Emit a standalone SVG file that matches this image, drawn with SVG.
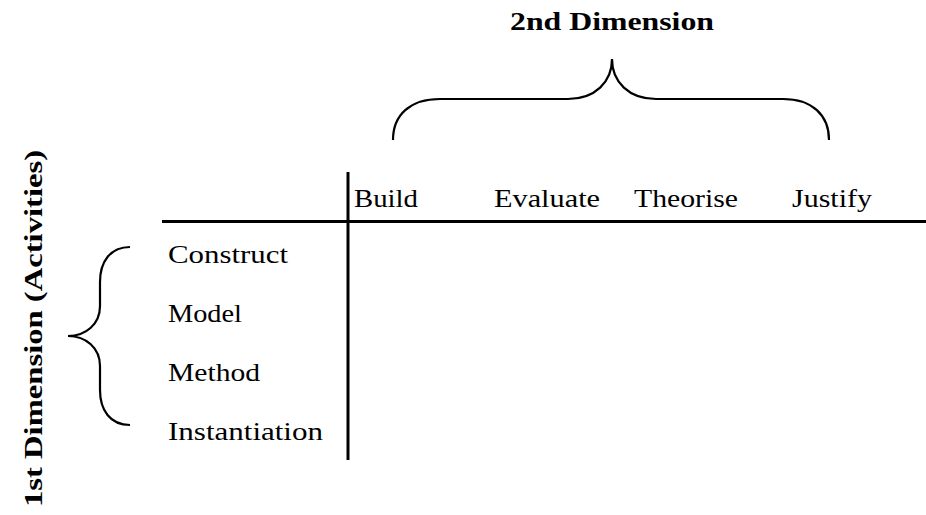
<svg xmlns="http://www.w3.org/2000/svg" width="926" height="515" viewBox="0 0 926 515">
  <style>
    .lbl { font-family: "Liberation Serif", "DejaVu Serif", serif; font-size: 25px; fill: #000; }
    .ttl { font-family: "Liberation Serif", "DejaVu Serif", serif; font-size: 26px; font-weight: bold; fill: #000; }
    .rule { stroke: #000; stroke-width: 3; fill: none; }
    .brace { stroke: #000; stroke-width: 2.2; fill: none; stroke-linecap: butt; }
  </style>
  <rect width="926" height="515" fill="#fff"/>

  <!-- table rules -->
  <g id="rules">
    <line class="rule" x1="162" y1="221.5" x2="926" y2="221.5"/>
    <line class="rule" x1="348" y1="172" x2="348" y2="460"/>
  </g>

  <!-- column headers -->
  <g id="columns">
    <text class="lbl" x="354" y="207" textLength="64" lengthAdjust="spacingAndGlyphs">Build</text>
    <text class="lbl" x="494" y="207" textLength="106" lengthAdjust="spacingAndGlyphs">Evaluate</text>
    <text class="lbl" x="634" y="207" textLength="104" lengthAdjust="spacingAndGlyphs">Theorise</text>
    <text class="lbl" x="792" y="207" textLength="80" lengthAdjust="spacingAndGlyphs">Justify</text>
  </g>

  <!-- row headers -->
  <g id="rows">
    <text class="lbl" x="168" y="263" textLength="120" lengthAdjust="spacingAndGlyphs">Construct</text>
    <text class="lbl" x="168" y="322" textLength="74" lengthAdjust="spacingAndGlyphs">Model</text>
    <text class="lbl" x="168" y="381" textLength="92" lengthAdjust="spacingAndGlyphs">Method</text>
    <text class="lbl" x="168" y="440" textLength="155" lengthAdjust="spacingAndGlyphs">Instantiation</text>
  </g>

  <!-- second dimension: brace over the columns -->
  <g id="dim2">
    <path class="brace" d="M393,140 C393,115 410,99 440,99 L568,99 C595,99 612,82 612,59 C612,82 629,99 656,99 L783,99 C812,99 829,115 829,140"/>
    <text class="ttl" x="612" y="30" text-anchor="middle" textLength="204" lengthAdjust="spacingAndGlyphs">2nd Dimension</text>
  </g>

  <!-- first dimension: brace beside the rows -->
  <g id="dim1">
    <path class="brace" d="M130,247 C110,247 100,262 100,282 L100,306 C100,324 86,336 68,336 C86,336 100,348 100,366 L100,390 C100,410 110,425 130,425"/>
    <text class="ttl" transform="translate(42,328.5) rotate(-90)" x="0" y="0" text-anchor="middle" textLength="357" lengthAdjust="spacingAndGlyphs">1st Dimension (Activities)</text>
  </g>
</svg>
